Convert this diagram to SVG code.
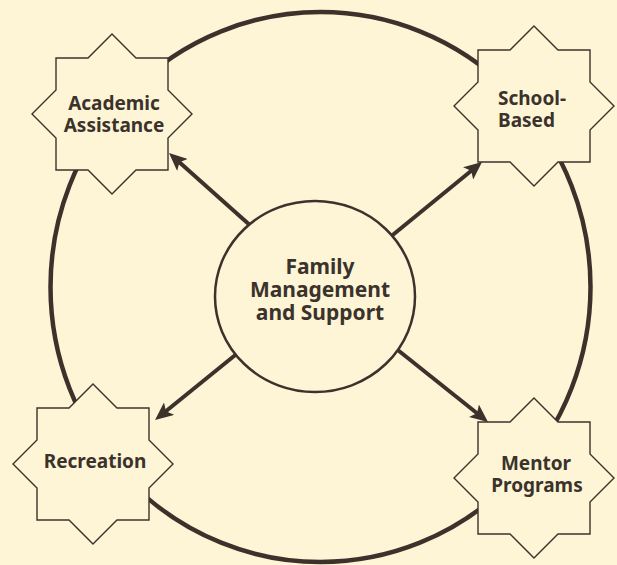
<svg xmlns="http://www.w3.org/2000/svg" width="617" height="565" viewBox="0 0 617 565">
<style>
.bg{fill:#fdf5d6}
.ring{fill:none;stroke:#3d322b;stroke-width:4.5}
.hub{fill:#fdf5d6;stroke:#3d322b;stroke-width:2.5}
.star{fill:#fdf5d6;stroke:#3d322b;stroke-width:1.4;stroke-linejoin:miter}
.arrow{fill:none;stroke:#3d322b;stroke-width:4;marker-end:url(#ah)}
text{font-family:"Noto Sans","Open Sans","Liberation Sans",sans-serif;font-weight:bold;fill:#3b322b;text-anchor:middle}
.lbl{font-size:19px}
.hubt{font-size:21px}
</style>
<defs>
<marker id="ah" markerUnits="userSpaceOnUse" markerWidth="20" markerHeight="16" refX="12" refY="8" orient="auto">
<path d="M0,0 L18,8 L0,16 L4,8 z" fill="#3d322b"/>
</marker>
<polygon id="star" points="0,-80 24,-56 56,-56 56,-24 80,0 56,24 56,56 24,56 0,80 -24,56 -56,56 -56,24 -80,0 -56,-24 -56,-56 -24,-56"/>
</defs>
<rect class="bg" x="0" y="0" width="617" height="565"/>
<g id="connectors">
<ellipse class="ring" cx="320.5" cy="287" rx="270" ry="275"/>
<path class="arrow" d="M252,227 L173.5,157"/>
<path class="arrow" d="M389,238 L477.4,165.8"/>
<path class="arrow" d="M239,352 L159.7,416.2"/>
<path class="arrow" d="M394,347 L483.3,418.3"/>
</g>
<g id="hub">
<ellipse class="hub" cx="315" cy="296.5" rx="100" ry="95.5"/>
<text class="hubt" x="320" y="274">Family</text>
<text class="hubt" x="320" y="297">Management</text>
<text class="hubt" x="320" y="320">and Support</text>
</g>
<g id="academic">
<use href="#star" class="star" transform="translate(112,114)"/>
<text class="lbl" x="114" y="110">Academic</text>
<text class="lbl" x="114" y="132">Assistance</text>
</g>
<g id="school">
<use href="#star" class="star" transform="translate(534,106)"/>
<text class="lbl" x="498" y="105" style="text-anchor:start">School-</text>
<text class="lbl" x="498" y="127" style="text-anchor:start">Based</text>
</g>
<g id="recreation">
<use href="#star" class="star" transform="translate(93,464)"/>
<text class="lbl" x="95" y="468">Recreation</text>
</g>
<g id="mentor">
<use href="#star" class="star" transform="translate(534,478)"/>
<text class="lbl" x="536" y="470">Mentor</text>
<text class="lbl" x="537" y="492">Programs</text>
</g>
</svg>
